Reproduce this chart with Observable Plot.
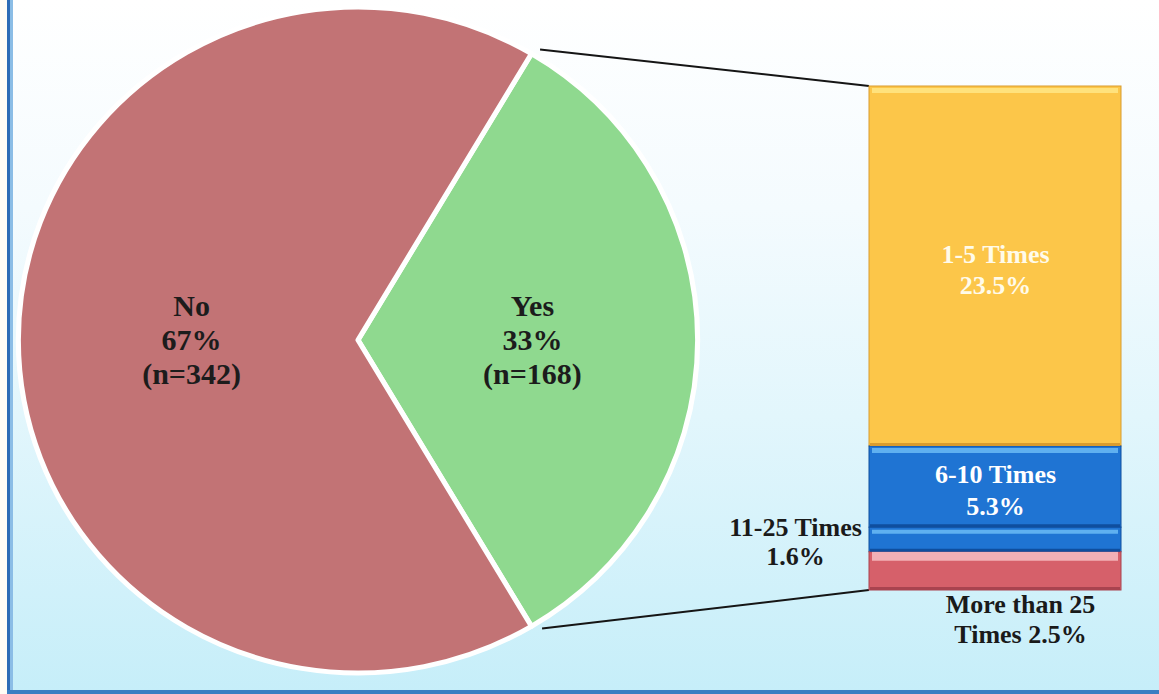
<!DOCTYPE html>
<html><head><meta charset="utf-8">
<script src="https://cdn.jsdelivr.net/npm/d3@7"></script>
<script src="https://cdn.jsdelivr.net/npm/@observablehq/plot@0.6"></script>
<style>
html,body{margin:0;padding:0;background:#fff;}
#frame{position:relative;width:1159px;height:694px;overflow:hidden;
background:linear-gradient(to bottom,#ffffff 0%,#f4fbfe 30%,#e2f6fc 60%,#c6eef9 100%);}
#frame svg{position:absolute;left:0;top:0;}
.lb{position:absolute;left:0;top:0;width:7px;height:694px;background:#fffdf6;}
.lb2{position:absolute;left:7px;top:0;width:3px;height:694px;background:#2d6cb5;}
.lb3{position:absolute;left:10px;top:0;width:3px;height:694px;background:#8bbde6;}
.bb{position:absolute;left:7px;bottom:0;width:1152px;height:4px;background:#3b7ec2;}
</style>
</head><body>
<div id="frame"><div class="lb"></div><div class="lb2"></div><div class="lb3"></div><div class="bb"></div></div>
<script>
// ---- data ----
const pieLabels = ["Yes", "No"];
const pieCounts = [168, 342];
const piePercents = ["33%", "67%"];
const barLabels = ["1-5 Times", "6-10 Times", "11-25 Times", "More than 25 Times"];
const barValues = [23.5, 5.3, 1.6, 2.5];
const barTexts = ["1-5 Times\n23.5%", "6-10 Times\n5.3%", "11-25 Times\n1.6%", "More than 25\nTimes 2.5%"];
// ---- styles ----
const pieColors = ["#8fd98f", "#c27375"];
const barColors = ["#fcc649", "#1f74d3", "#1f74d3", "#d6606a"];
const barLights = ["#ffe27c", "#5fb0f0", "#5fb0f0", "#f2b0b6"];
const barDarks = ["#d99c2e", "#0f4e9e", "#0f4e9e", "#a9434f"];
const barLightW = [5, 5, 4, 9];
const barTextFill = ["#fffbea", "#ffffff"];

const pie = pieLabels.map((label, i) => ({label, n: pieCounts[i], pct: piePercents[i]}));
const bars = barLabels.map((label, i) => ({
  group: "Yes", label, value: barValues[i], text: barTexts[i],
  fill: barColors[i], light: barLights[i], dark: barDarks[i], lw: barLightW[i],
  tfill: barTextFill[i] || "#1a1a1a", i
}));
const total = d3.sum(barValues);

function pieMark(index, scales) {
  const cx = 358, cy = 340, r = 333, sx = 1.02;
  const yesShare = pie[0].n / d3.sum(pie, d => d.n);
  const a0 = Math.PI / 2 - Math.PI * yesShare;
  const arcs = d3.pie().sort(null).value(d => d.n).startAngle(a0).endAngle(a0 + 2 * Math.PI)(pie);
  const g = d3.create("svg:g");
  const gp = g.append("g").attr("transform", `translate(${cx},${cy}) scale(${sx},1)`);
  const arc = d3.arc().innerRadius(0).outerRadius(r);
  gp.selectAll("path").data(arcs).join("path")
    .attr("d", arc)
    .attr("fill", (d, i) => pieColors[i])
    .attr("stroke", "white").attr("stroke-width", 5).attr("stroke-linejoin", "round");
  // labels
  const la = d3.arc().innerRadius(r * 0.49).outerRadius(r * 0.49);
  arcs.forEach((d, i) => {
    const [px, py] = la.centroid(d);
    const lx = cx + px * sx + (i === 0 ? 8 : 0);
    const t = g.append("text")
      .attr("x", lx).attr("y", cy + py)
      .attr("text-anchor", "middle")
      .attr("font-family", "'Liberation Serif','Times New Roman',serif")
      .attr("font-weight", "bold").attr("font-size", 30).attr("fill", "#1c1c1c");
    const lines = [d.data.label, d.data.pct, `(n=${d.data.n})`];
    lines.forEach((s, k) => t.append("tspan").attr("x", lx)
      .attr("dy", k === 0 ? "-0.8em" : "1.13em").text(s));
  });
  // connectors
  const yes = arcs[0];
  const rr = r + 5;
  const p1 = [cx + sx * rr * Math.sin(yes.startAngle) + 6, cy - rr * Math.cos(yes.startAngle)];
  const p2 = [cx + sx * rr * Math.sin(yes.endAngle) + 8, cy - rr * Math.cos(yes.endAngle) - 2];
  const xL = scales.x("Yes");
  const yT = scales.y(total), yB = scales.y(0);
  g.append("line").attr("x1", p1[0]).attr("y1", p1[1]).attr("x2", xL).attr("y2", yT)
    .attr("stroke", "#151515").attr("stroke-width", 2);
  g.append("line").attr("x1", p2[0]).attr("y1", p2[1]).attr("x2", xL).attr("y2", yB)
    .attr("stroke", "#151515").attr("stroke-width", 2);
  return g.node();
}

const st = (o) => ({x: "group", y: "value", reverse: true, ...o});
const font = "'Liberation Serif','Times New Roman',serif";

const chart = Plot.plot({
  width: 1159, height: 694, margin: 0,
  x: {type: "band", domain: ["Yes"], range: [869, 1121], padding: 0, axis: null},
  y: {domain: [0, total], range: [590, 86], axis: null},
  color: {type: "identity"},
  style: {background: "transparent", fontFamily: font},
  marks: [
    pieMark,
    Plot.barY(bars, Plot.stackY(st({fill: "fill", stroke: "dark", strokeWidth: 1}))),
    Plot.tickY(bars, Plot.stackY2(st({stroke: "light", strokeWidth: "lw", dy: 4, insetLeft: 3, insetRight: 3}))),
    Plot.tickY(bars, Plot.stackY1(st({stroke: "dark", strokeWidth: 3, dy: -2, insetLeft: 1, insetRight: 1}))),
    Plot.text(bars, Plot.stackY(st({text: d => d.i < 2 ? d.text : null, fill: "tfill", fontSize: 26, fontWeight: "bold", lineHeight: 1.2, dy: 2}))),
    Plot.text(bars, Plot.stackY(st({text: d => d.i === 2 ? d.text : null, fill: "tfill", fontSize: 26, fontWeight: "bold", lineHeight: 1.15, dx: -200, dy: 1}))),
    Plot.text(bars, Plot.stackY(st({text: d => d.i === 3 ? d.text : null, fill: "tfill", fontSize: 26, fontWeight: "bold", lineHeight: 1.15, dx: 25, dy: 47})))
  ]
});
document.getElementById("frame").appendChild(chart);
</script>
</body></html>
